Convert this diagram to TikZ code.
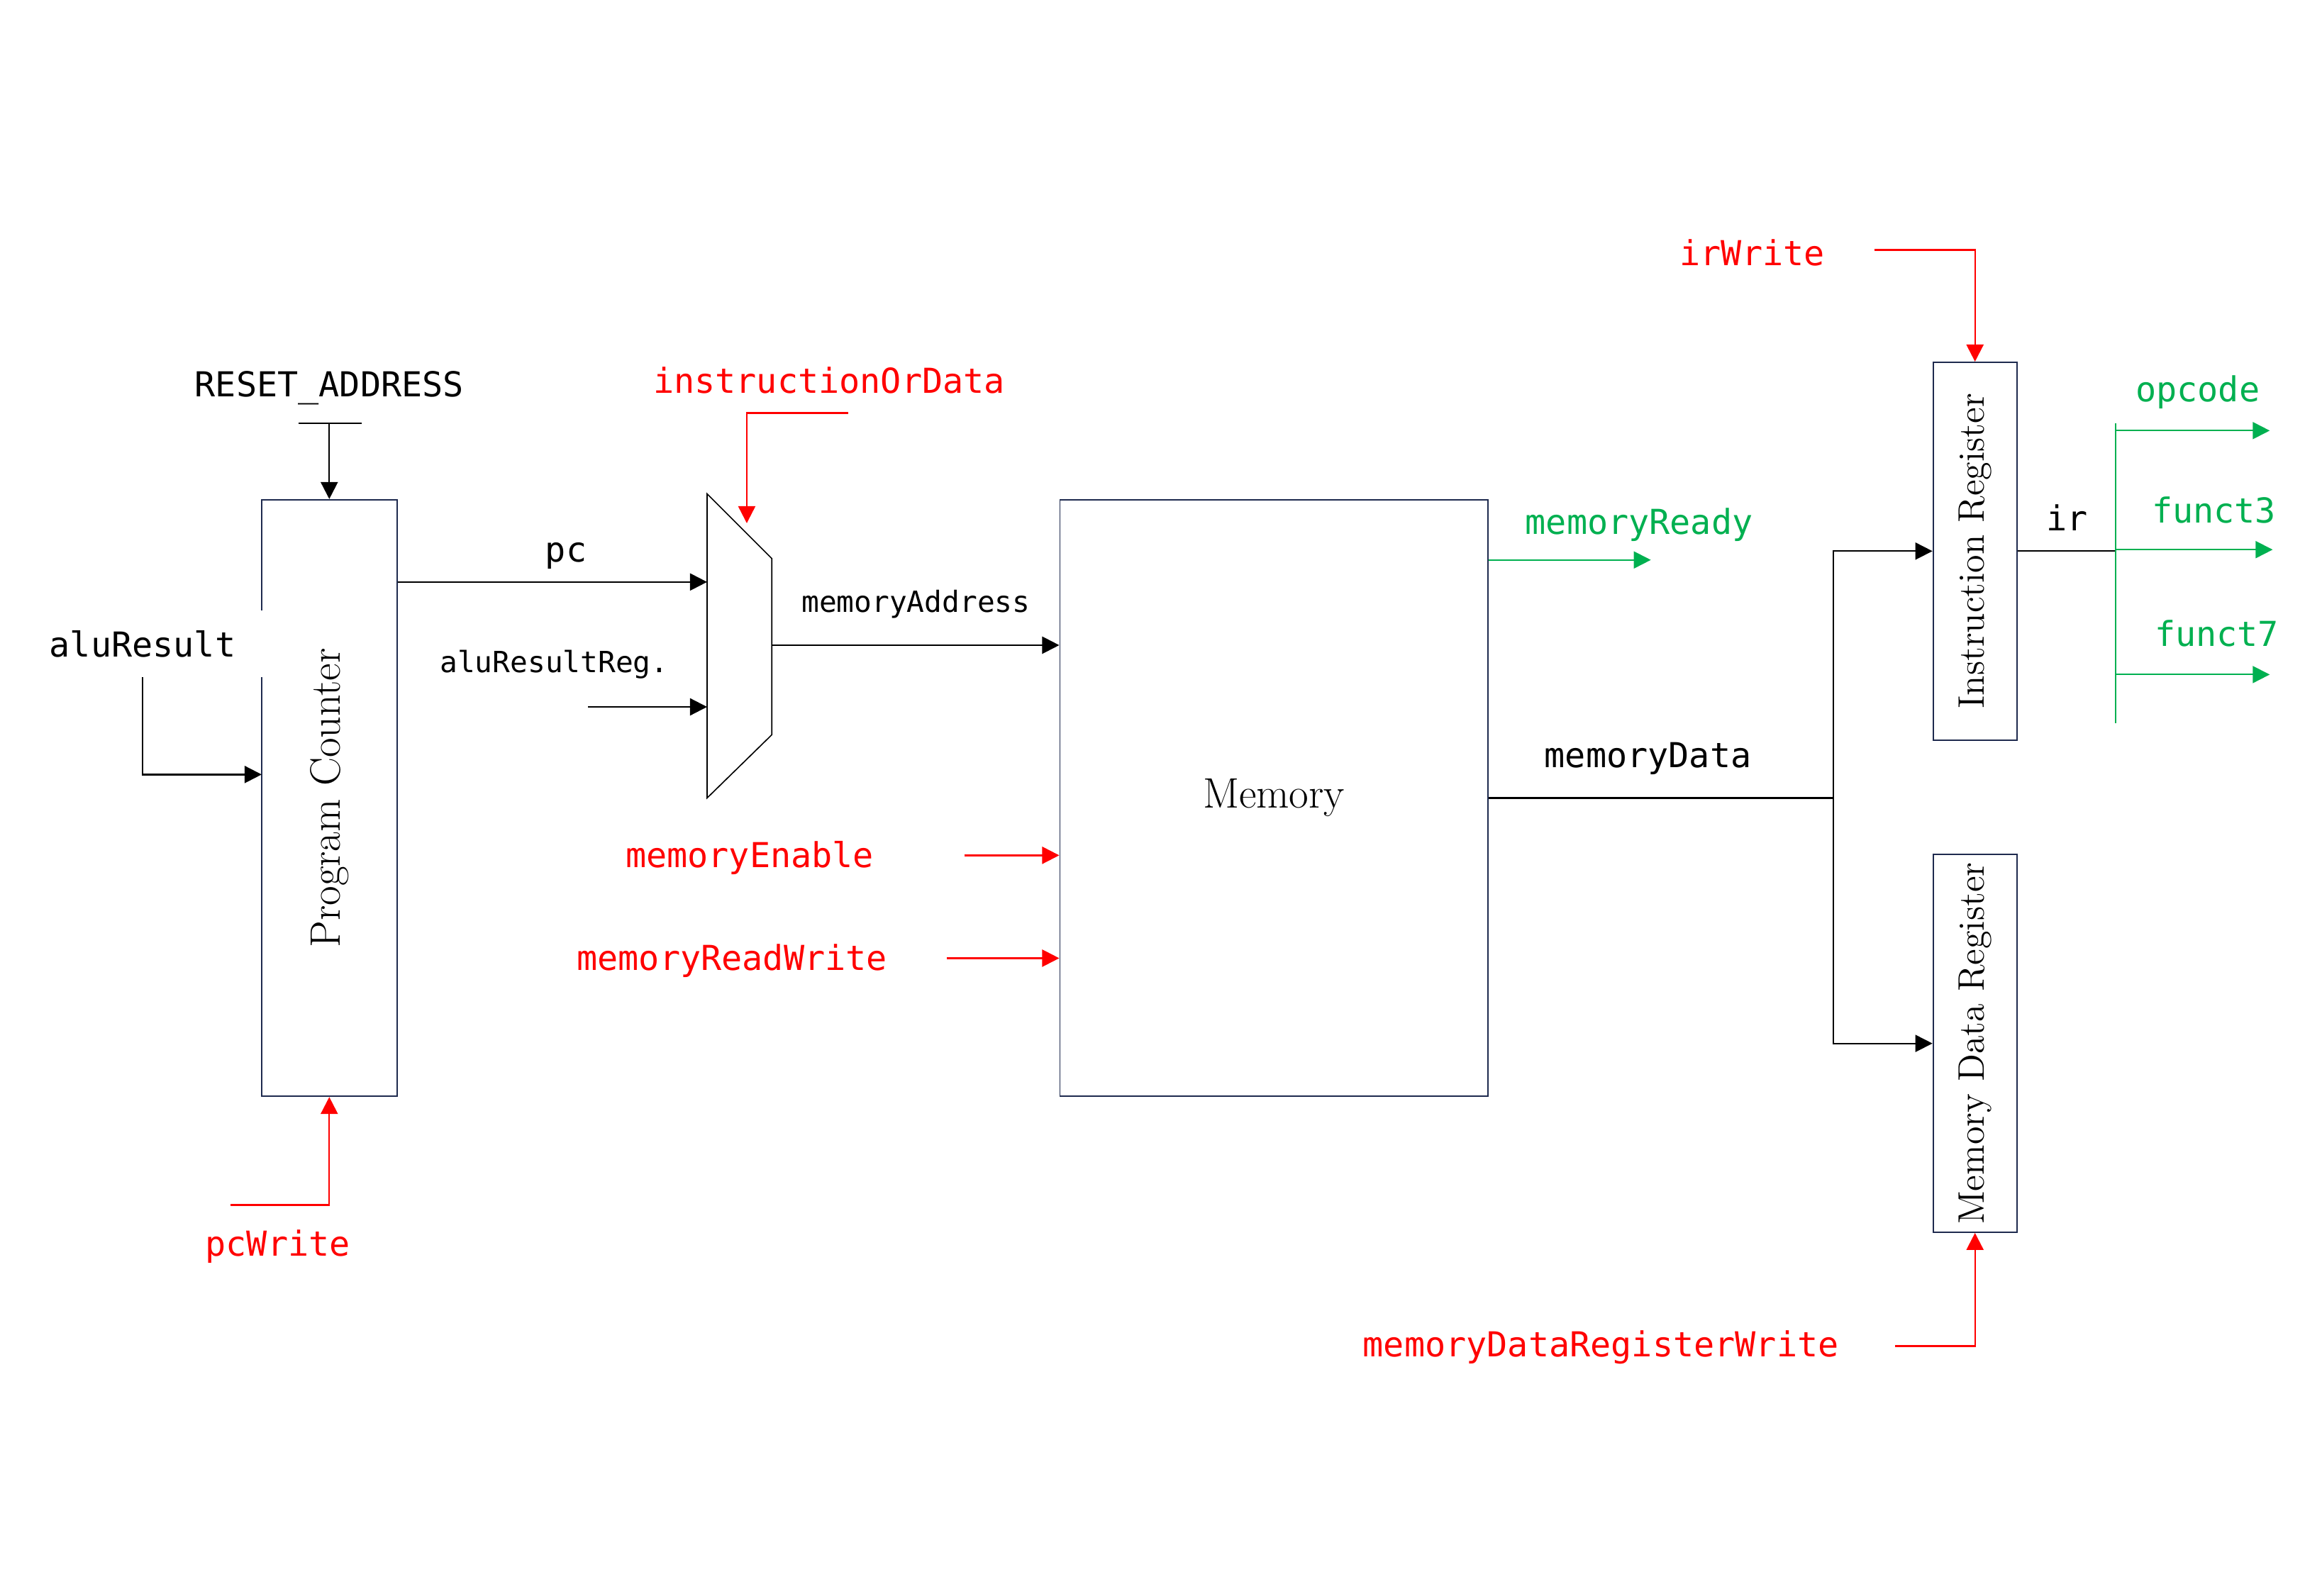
\documentclass[tikz,border=0pt]{standalone}
\usepackage{fontspec}
\setmonofont{DejaVu Sans Mono}
\usepackage{tikz}
\usetikzlibrary{arrows.meta,calc}
\definecolor{sigRed}{RGB}{255,0,0}
\definecolor{sigGreen}{RGB}{0,176,80}
\definecolor{boxLine}{RGB}{30,42,78}
\tikzset{
	block/.style={draw=boxLine, line width=0.5pt, inner sep=0pt, font=\fontsize{16.5}{19}\selectfont},
	regblock/.style={block, minimum width=1.14cm, minimum height=5.14cm, font=\fontsize{14.3}{17}\selectfont},
	wire/.style={line width=0.65pt},
	arr/.style={wire, -{Triangle[length=6.6pt,width=6.6pt]}},
	ctrl/.style={arr, line width=0.65pt, color=sigRed},
	stat/.style={arr, line width=0.55pt, color=sigGreen},
	sig/.style={font=\ttfamily\fontsize{13.3}{16}\selectfont},
	sigsmall/.style={font=\ttfamily\fontsize{11.3}{14}\selectfont},
}

\begin{document}
\begin{tikzpicture}[x=0.2cm, y=-0.2cm]
	%%%%% START %%%%%
	\useasboundingbox (0,0) rectangle (156.8,108.6);
	
	% blocks
	\node[block, minimum width=1.84cm, minimum height=8.12cm] (pc) at (22.4,54.3) {\rotatebox{90}{Program Counter}};
	\node[block, minimum width=5.82cm, minimum height=8.12cm] (mem) at (86.65,54.3) {Memory};
	\node[regblock] (ir) at (134.35,37.5) {\rotatebox{90}{Instruction Register}};
	\node[regblock] (mdr) at (134.35,71.0) {\rotatebox{90}{Memory Data Register}};
	
	% mux
	\draw[line width=0.45pt] (48.1,33.6) -- (52.5,38.0) -- (52.5,50.0) -- (48.1,54.3) -- cycle;
	\coordinate (muxA) at (48.1,39.6);
	\coordinate (muxB) at (48.1,48.1);
	\coordinate (muxS) at (50.8,35.6);
	\coordinate (muxOut) at (52.5,43.9);
	
	% program counter inputs
	\node[sig] (rst) at (22.4,26.4) {RESET\_ADDRESS};
	\coordinate (rstL) at (20.3,28.8);
	\coordinate (rstR) at (24.6,28.8);
	\draw[line width=0.45pt] (rstL) -- (rstR);
	\draw[arr] (pc.north |- rstL) -- (pc.north);
	
	\node[sig, fill=white, inner xsep=0.42cm, inner ysep=0.27cm] (alu) at (9.7,43.8) {aluResult};
	\coordinate (pcIn) at (17.8,52.7);
	\draw[arr] (alu.south) |- (pcIn);
	
	\node[sig, text=sigRed] (pcw) at (18.9,84.8) {pcWrite};
	\coordinate (pcwL) at (15.7,82.0);
	\draw[ctrl] (pcwL) -| (pc.south);
	
	% mux inputs
	\node[sig] (pclab) at (38.5,37.8) {pc};
	\draw[arr] (pc.east |- muxA) -- (muxA);
	
	\node[sigsmall] (alureg) at (37.7,45.2) {aluResultReg.};
	\coordinate (regL) at (40.0,48.1);
	\draw[arr] (regL) -- (muxB);
	
	\node[sig, text=sigRed] (iod) at (56.4,25.9) {instructionOrData};
	\coordinate (iodR) at (57.7,28.1);
	\draw[ctrl] (iodR) -| (muxS);
	
	% memory
	\node[sigsmall] (addr) at (62.3,41.1) {memoryAddress};
	\draw[arr] (muxOut) -- (muxOut -| mem.west);
	
	\node[sig, text=sigRed] (men) at (51.0,58.4) {memoryEnable};
	\coordinate (menL) at (65.6,58.2);
	\draw[ctrl] (menL) -- (menL -| mem.west);
	
	\node[sig, text=sigRed] (mrw) at (49.8,65.4) {memoryReadWrite};
	\coordinate (mrwL) at (64.4,65.2);
	\draw[ctrl] (mrwL) -- (mrwL -| mem.west);
	
	\node[sig, text=sigGreen] (rdy) at (111.5,35.7) {memoryReady};
	\coordinate (rdyR) at (112.3,38.1);
	\draw[stat] (rdyR -| mem.east) -- (rdyR);
	
	\node[sig] (mdata) at (112.1,51.6) {memoryData};
	\coordinate (split) at (124.7,54.3);
	\draw[wire] (mem.east) -- (split);
	\draw[arr, line width=0.5pt] (split) |- (ir.west);
	\draw[arr, line width=0.5pt] (split) |- (mdr.west);
	
	% registers
	\node[sig, text=sigRed] (irw) at (119.2,17.2) {irWrite};
	\coordinate (irwL) at (127.5,17.0);
	\draw[ctrl] (irwL) -| (ir.north);
	
	\node[sig, text=sigRed] (mdrw) at (108.9,91.7) {memoryDataRegisterWrite};
	\coordinate (mdrwL) at (128.9,91.6);
	\draw[ctrl] (mdrwL) -| (mdr.south);
	
	% instruction fields
	\node[sig] (irlab) at (140.6,35.2) {ir};
	\coordinate (busT) at (143.9,28.8);
	\coordinate (busB) at (143.9,49.2);
	\draw[wire] (ir.east) -- (ir.east -| busT);
	\draw[stat, -] (busT) -- (busB);
	
	\node[sig, text=sigGreen] (opc) at (149.5,26.7) {opcode};
	\node[sig, text=sigGreen] (f3) at (150.6,34.7) {funct3};
	\node[sig, text=sigGreen] (f7) at (150.8,43.1) {funct7};
	\coordinate (opcR) at (154.4,29.3);
	\coordinate (f3R) at (154.6,37.4);
	\coordinate (f7R) at (154.4,45.9);
	\draw[stat] (busT |- opcR) -- (opcR);
	\draw[stat] (busT |- f3R) -- (f3R);
	\draw[stat] (busT |- f7R) -- (f7R);
	
	%%%%% END %%%%%
\end{tikzpicture}
\end{document}
